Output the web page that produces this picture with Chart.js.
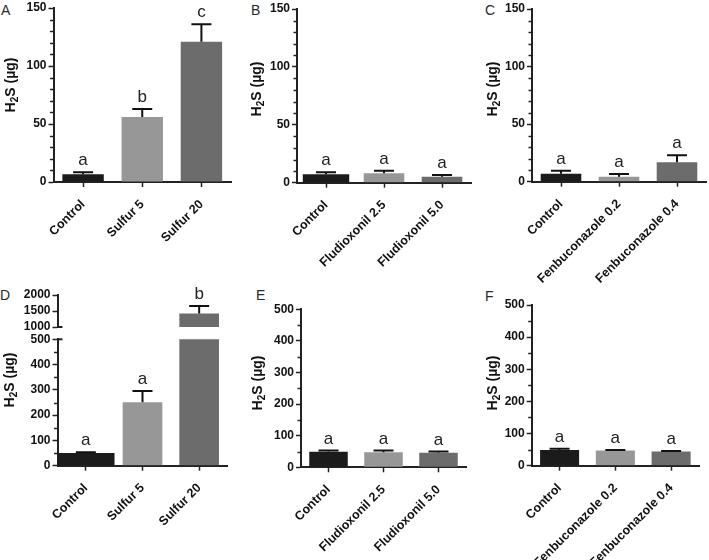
<!DOCTYPE html>
<html><head><meta charset="utf-8">
<script src="https://cdn.jsdelivr.net/npm/chart.js@4/dist/chart.umd.min.js"></script>
<style>
html,body{margin:0;padding:0;background:#fff;}
#wrap{position:relative;width:709px;height:560px;overflow:hidden;background:#fff;}
#wrap canvas{position:absolute;left:0;top:0;}
.pl{position:absolute;font:14px "Liberation Sans",Arial,sans-serif;line-height:14px;color:#2a2a2a;}
</style></head><body>
<div id="wrap">
<div class="pl" style="left:1px;top:3px">A</div>
<div class="pl" style="left:251px;top:3px">B</div>
<div class="pl" style="left:485px;top:3px">C</div>
<div class="pl" style="left:0px;top:288px">D</div>
<div class="pl" style="left:256px;top:288px">E</div>
<div class="pl" style="left:485px;top:289px">F</div>
</div>
<script>
// ---- data ----
const catsSulfur = ['Control', 'Sulfur 5', 'Sulfur 20'];
const catsFludio = ['Control', 'Fludioxonil 2.5', 'Fludioxonil 5.0'];
const catsFenbu = ['Control', 'Fenbuconazole 0.2', 'Fenbuconazole 0.4'];

const meanA = [6.6, 56, 121];  const errA = [1.8, 7, 15];  const letA = ['a', 'b', 'c'];
const meanB = [7.3, 8.1, 5.2]; const errB = [1.8, 2.3, 1.5]; const letB = ['a', 'a', 'a'];
const meanC = [7, 4.3, 17];    const errC = [2.5, 2.3, 6];   const letC = ['a', 'a', 'a'];
const meanD = [49, 251, 1420]; const errD = [4, 44, 240];    const letD = ['a', 'a', 'b'];
const meanE = [49, 48, 46];    const errE = [4, 5, 4];       const letE = ['a', 'a', 'a'];
const meanF = [49, 47, 44];    const errF = [4, 2, 2];       const letF = ['a', 'a', 'a'];

const ticks150 = [0, 50, 100, 150];
const ticks500 = [0, 100, 200, 300, 400, 500];
const ticksDTop = [1000, 1500, 2000];

const barColors = ['#1b1b1b', '#979797', '#6c6c6c'];
const FF = '"Liberation Sans", Arial, sans-serif';

// ---- layout (positions only) ----
const panels = [
  {id:'A', cats:catsSulfur, mean:meanA, err:errA, let:letA, ticks:ticks150, minor:10, L:53.5, R:231, T:6.5, B:182, tx:11, ty:85, ctrlPct:0.7},
  {id:'B', cats:catsFludio, mean:meanB, err:errB, let:letB, ticks:ticks150, minor:10, L:297, R:471, T:9, B:182.7, tx:257.5, ty:89, ctrlPct:0.8},
  {id:'C', cats:catsFenbu, mean:meanC, err:errC, let:letC, ticks:ticks150, minor:10, L:532, R:706, T:9, B:181.7, tx:493.5, ty:89, ctrlPct:0.7},
  {id:'Dt', cats:catsSulfur, mean:meanD, err:errD, let:letD, ticks:ticksDTop, minor:null, L:57.5, R:227.5, T:295, B:327, noX:true, breakAt:1000, ctrlPct:1.0},
  {id:'Db', cats:catsSulfur, mean:meanD, err:errD, let:letD, ticks:ticks500, minor:50, L:57.5, R:227.5, T:339.3, B:465.7, tx:10.5, ty:380, breakAt:500, ctrlPct:1.0},
  {id:'E', cats:catsFludio, mean:meanE, err:errE, let:letE, ticks:ticks500, minor:50, L:301, R:466, T:309.3, B:467.3, tx:258.5, ty:383, ctrlPct:0.7},
  {id:'F', cats:catsFenbu, mean:meanF, err:errF, let:letF, ticks:ticks500, minor:50, L:531.7, R:699, T:305, B:465.7, tx:493.5, ty:383, ctrlPct:0.7}
];

Chart.defaults.font.family = FF;

function makeDecor(p) {
  return {
    id: 'decor' + p.id,
    afterDatasetsDraw(chart) {
      const ctx = chart.ctx, y = chart.scales.y, x = chart.scales.x, area = chart.chartArea;
      ctx.save();
      ctx.strokeStyle = '#222';
      ctx.lineWidth = 1.5;
      if (p.minor) {
        for (let v = y.min + p.minor; v < y.max; v += p.minor) {
          if (p.ticks.includes(v)) continue;
          const py = Math.round(y.getPixelForValue(v)) + 0.5;
          ctx.beginPath(); ctx.moveTo(area.left - 3.5, py); ctx.lineTo(area.left, py); ctx.stroke();
        }
      }
      if (p.breakAt != null) {
        const py = y.getPixelForValue(p.breakAt);
        ctx.lineWidth = 2;
        ctx.beginPath(); ctx.moveTo(area.left, py); ctx.lineTo(area.left + 5, py); ctx.stroke();
      }
      p.mean.forEach((m, i) => {
        if (m == null || m < y.min || m > y.max) return;
        const top = m + p.err[i];
        const py = y.getPixelForValue(top), px = x.getPixelForValue(i), pm = y.getPixelForValue(m);
        ctx.strokeStyle = '#111'; ctx.lineWidth = 2;
        ctx.beginPath();
        ctx.moveTo(px, pm); ctx.lineTo(px, py);
        ctx.moveTo(px - 10, py); ctx.lineTo(px + 10, py);
        ctx.stroke();
        ctx.fillStyle = '#222'; ctx.font = '17px ' + FF;
        ctx.textAlign = 'center'; ctx.textBaseline = 'alphabetic';
        ctx.fillText(p.let[i], px, py - 7);
      });
      if (p.tx != null) {
        ctx.translate(p.tx, p.ty); ctx.rotate(-Math.PI / 2);
        const f1 = 'bold 14px ' + FF, f2 = 'bold 10px ' + FF;
        ctx.font = f1; const wH = ctx.measureText('H').width; const wR = ctx.measureText('S (µg)').width;
        ctx.font = f2; const w2 = ctx.measureText('2').width;
        const x0 = -(wH + w2 + wR) / 2;
        ctx.fillStyle = '#111'; ctx.textAlign = 'left'; ctx.textBaseline = 'middle';
        ctx.font = f1; ctx.fillText('H', x0, 0);
        ctx.font = f2; ctx.fillText('2', x0 + wH, 4);
        ctx.font = f1; ctx.fillText('S (µg)', x0 + wH + w2, 0);
      }
      ctx.restore();
    }
  };
}

const wrap = document.getElementById('wrap');
const CW = 709, CH = 720;
const Wy = 40, Hx = 130;
panels.forEach(p => {
  const cv = document.createElement('canvas');
  cv.width = CW; cv.height = CH;
  wrap.appendChild(cv);
  // control bar in its own dataset so its width can differ
  const ctrlData = p.mean.map((v, i) => i === 0 ? v : null);
  const restData = p.mean.map((v, i) => i === 0 ? null : v);
  new Chart(cv, {
    type: 'bar',
    data: {
      labels: p.cats,
      datasets: [
        {data: ctrlData, backgroundColor: barColors, borderWidth: 0, grouped: false,
          barPercentage: p.ctrlPct, categoryPercentage: 1, clip: 0},
        {data: restData, backgroundColor: barColors, borderWidth: 0, grouped: false,
          barPercentage: 0.7, categoryPercentage: 1, clip: 0}
      ]
    },
    options: {
      responsive: false, animation: false, devicePixelRatio: 1,
      layout: {padding: {left: p.L - Wy, right: CW - p.R, top: p.T,
        bottom: p.noX ? CH - p.B : CH - p.B - Hx}},
      plugins: {legend: {display: false}, tooltip: {enabled: false}},
      scales: {
        x: {
          display: !p.noX,
          grid: {display: true, offset: false, drawOnChartArea: false, drawTicks: true,
            tickLength: 5, tickColor: '#222', tickWidth: 1.5},
          border: {display: true, color: '#222', width: 2},
          ticks: {autoSkip: false, minRotation: 45, maxRotation: 45, color: '#111',
            font: {size: 12.5, weight: 'bold'}, padding: 10},
          afterFit: s => { if (!p.noX) s.height = Hx; }
        },
        y: {
          min: p.ticks[0], max: p.ticks[p.ticks.length - 1],
          afterBuildTicks: s => { s.ticks = p.ticks.map(v => ({value: v})); },
          grid: {display: true, drawOnChartArea: false, drawTicks: true,
            tickLength: 5, tickColor: '#222', tickWidth: 1.5},
          border: {display: true, color: '#222', width: 2},
          ticks: {autoSkip: false, color: '#111', font: {size: 12, weight: 'bold', lineHeight: 1}, padding: 2,
            callback: v => String(v)},
          afterFit: s => { s.width = Wy; }
        }
      }
    },
    plugins: [makeDecor(p)]
  });
});
</script>
</body></html>
